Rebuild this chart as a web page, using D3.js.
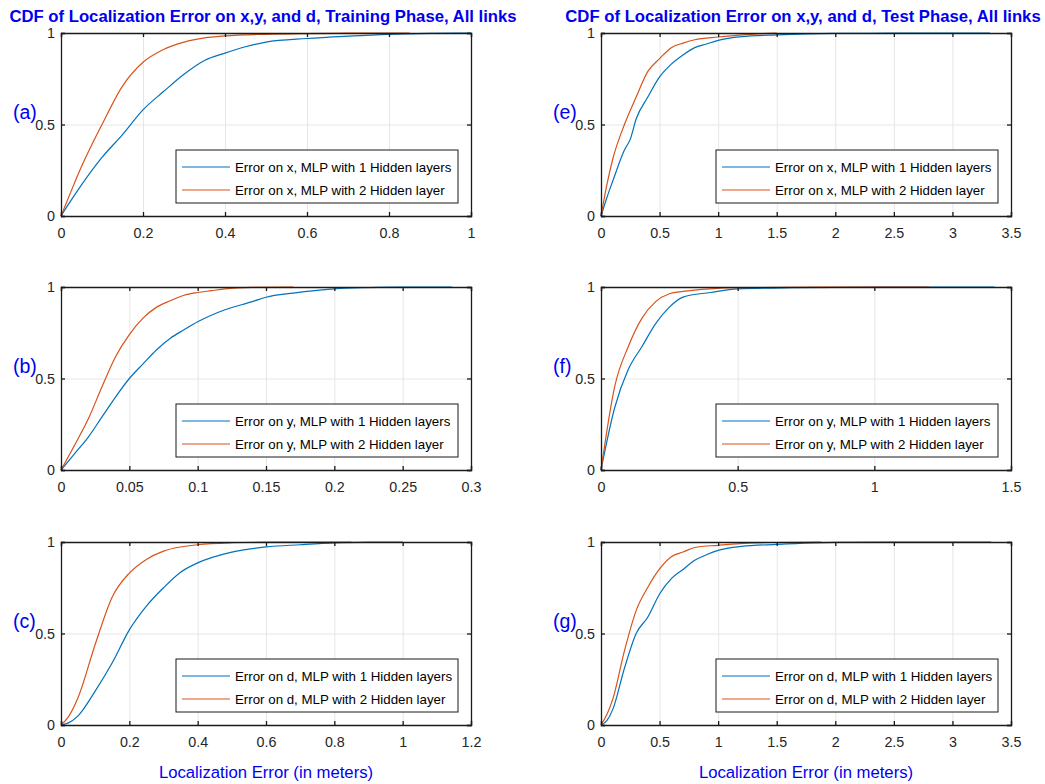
<!DOCTYPE html>
<html>
<head>
<meta charset="utf-8">
<script src="https://cdn.jsdelivr.net/npm/d3@7"></script>
<style>
  body { margin: 0; background: #fff; }
  svg text { font-family: "Liberation Sans", Arial, Helvetica, sans-serif; }
</style>
</head>
<body>
<div id="chart"></div>
<script>
// ---- data (CDF values) ----
// (a) training, error on x
const aOneX = [0, 0.02, 0.05, 0.1, 0.15, 0.2, 0.25, 0.3, 0.35, 0.4, 0.45, 0.5, 0.6, 0.7, 0.8, 0.9, 1.0];
const aOne  = [0, 0.07, 0.17, 0.32, 0.445, 0.58, 0.68, 0.775, 0.85, 0.89, 0.925, 0.95, 0.97, 0.983, 0.993, 0.998, 1];
const aTwoX = [0, 0.02, 0.05, 0.1, 0.15, 0.2, 0.25, 0.3, 0.35, 0.4, 0.5, 0.6, 0.7, 0.85];
const aTwo  = [0, 0.11, 0.27, 0.5, 0.71, 0.84, 0.91, 0.95, 0.973, 0.984, 0.993, 0.997, 0.999, 1];
// (b) training, error on y
const bOneX = [0, 0.01, 0.02, 0.03, 0.04, 0.05, 0.06, 0.07, 0.08, 0.09, 0.1, 0.12, 0.14, 0.15, 0.17, 0.2, 0.22, 0.25, 0.286];
const bOne  = [0, 0.09, 0.18, 0.29, 0.4, 0.5, 0.58, 0.657, 0.72, 0.766, 0.81, 0.876, 0.92, 0.944, 0.967, 0.99, 0.996, 0.999, 1];
const bTwoX = [0, 0.01, 0.02, 0.03, 0.04, 0.05, 0.06, 0.07, 0.08, 0.09, 0.1, 0.11, 0.12, 0.14, 0.17];
const bTwo  = [0, 0.137, 0.28, 0.455, 0.62, 0.74, 0.83, 0.89, 0.925, 0.955, 0.97, 0.98, 0.99, 0.998, 1];
// (c) training, error on d
const cOneX = [0, 0.02, 0.05, 0.1, 0.15, 0.2, 0.25, 0.3, 0.35, 0.4, 0.5, 0.6, 0.7, 0.8, 0.9, 1.0];
const cOne  = [0, 0.01, 0.05, 0.185, 0.34, 0.52, 0.65, 0.75, 0.835, 0.886, 0.945, 0.973, 0.985, 0.995, 0.999, 1];
const cTwoX = [0, 0.02, 0.05, 0.1, 0.15, 0.2, 0.25, 0.3, 0.4, 0.5, 0.6, 0.85];
const cTwo  = [0, 0.04, 0.15, 0.44, 0.7, 0.83, 0.905, 0.95, 0.985, 0.996, 0.999, 1];
// (e) test, error on x
const eOneX = [0, 0.05, 0.1, 0.2, 0.25, 0.3, 0.4, 0.5, 0.6, 0.7, 0.8, 0.9, 1.0, 1.2, 1.5, 2.0, 2.5, 3.32];
const eOne  = [0, 0.1, 0.19, 0.36, 0.42, 0.53, 0.65, 0.76, 0.83, 0.88, 0.92, 0.94, 0.96, 0.98, 0.99, 0.998, 0.999, 1];
const eTwoX = [0, 0.05, 0.1, 0.2, 0.3, 0.4, 0.5, 0.6, 0.7, 0.8, 1.0, 1.2, 1.5];
const eTwo  = [0, 0.17, 0.31, 0.5, 0.65, 0.79, 0.86, 0.92, 0.945, 0.963, 0.978, 0.99, 1];
// (f) test, error on y
const fOneX = [0, 0.05, 0.1, 0.15, 0.2, 0.25, 0.3, 0.4, 0.5, 0.7, 1.0, 1.44];
const fOne  = [0, 0.34, 0.55, 0.675, 0.8, 0.89, 0.945, 0.97, 0.99, 0.996, 0.999, 1];
const fTwoX = [0, 0.05, 0.1, 0.15, 0.2, 0.25, 0.3, 0.4, 0.5, 0.8, 1.2];
const fTwo  = [0, 0.456, 0.675, 0.83, 0.92, 0.963, 0.976, 0.99, 0.996, 0.999, 1];
// (g) test, error on d
const gOneX = [0, 0.05, 0.1, 0.2, 0.3, 0.4, 0.5, 0.6, 0.7, 0.8, 0.9, 1.0, 1.2, 1.5, 2.0, 3.33];
const gOne  = [0, 0.024, 0.084, 0.31, 0.5, 0.59, 0.716, 0.8, 0.85, 0.9, 0.93, 0.954, 0.976, 0.987, 0.998, 1];
const gTwoX = [0, 0.05, 0.1, 0.2, 0.3, 0.4, 0.5, 0.6, 0.7, 0.8, 1.0, 1.3, 1.88];
const gTwo  = [0, 0.057, 0.14, 0.405, 0.625, 0.753, 0.853, 0.92, 0.945, 0.97, 0.982, 0.995, 1];

const panelLabels = ["(a)", "(b)", "(c)", "(e)", "(f)", "(g)"];
const axisNames = ["x", "y", "d", "x", "y", "d"];
const xMax = [1, 0.3, 1.2, 3.5, 1.5, 3.5];
const xTicks = [
    [0, 0.2, 0.4, 0.6, 0.8, 1],
    [0, 0.05, 0.1, 0.15, 0.2, 0.25, 0.3],
    [0, 0.2, 0.4, 0.6, 0.8, 1, 1.2],
    [0, 0.5, 1, 1.5, 2, 2.5, 3, 3.5],
    [0, 0.5, 1, 1.5],
    [0, 0.5, 1, 1.5, 2, 2.5, 3, 3.5]
];
const yTicks = [0, 0.5, 1];
const titles = [
    "CDF of Localization Error on x,y, and d, Training Phase, All links",
    "CDF of Localization Error on x,y, and d, Test Phase, All links"
];
const xLabel = "Localization Error (in meters)";

const seriesX = [[aOneX, aTwoX], [bOneX, bTwoX], [cOneX, cTwoX], [eOneX, eTwoX], [fOneX, fTwoX], [gOneX, gTwoX]];
const seriesY = [[aOne, aTwo], [bOne, bTwo], [cOne, cTwo], [eOne, eTwo], [fOne, fTwo], [gOne, gTwo]];

const colors = ["#0072BD", "#D95319"];
const blue = "#0000f0";

const W = 1045, H = 784;
const colLeft = [61, 601];
const rowTop = [33, 287, 542];
const pw = 410, ph = 183;

const svg = d3.select("#chart").append("svg")
    .attr("width", W)
    .attr("height", H);

// titles
titles.forEach((t, i) => {
    svg.append("text")
        .attr("x", colLeft[i] + pw / 2 - 3)
        .attr("y", 22)
        .attr("text-anchor", "middle")
        .style("font-size", "16.7px")
        .style("font-weight", "bold")
        .style("fill", blue)
        .text(t);
});

for (let p = 0; p < 6; p++) {
    let col = Math.floor(p / 3), row = p % 3;

    let g = svg.append("g")
        .attr("transform", `translate(${colLeft[col]}, ${rowTop[row]})`);

    let x = d3.scaleLinear().domain([0, xMax[p]]).range([0, pw]);
    let y = d3.scaleLinear().domain([0, 1]).range([ph, 0]);

    // grid
    g.append("g")
        .attr("class", "grid")
        .attr("transform", `translate(0, ${ph})`)
        .call(d3.axisBottom(x).tickValues(xTicks[p]).tickSize(-ph).tickFormat(""))
        .call(s => s.select(".domain").remove())
        .call(s => s.selectAll("line").attr("stroke", "#e6e6e6"));
    g.append("g")
        .attr("class", "grid")
        .call(d3.axisLeft(y).tickValues(yTicks).tickSize(-pw).tickFormat(""))
        .call(s => s.select(".domain").remove())
        .call(s => s.selectAll("line").attr("stroke", "#e6e6e6"));

    // curves
    let line = d3.line()
        .curve(d3.curveMonotoneX)
        .x(d => x(d[0]))
        .y(d => y(d[1]));
    [0, 1].forEach(k => {
        let pts = seriesX[p][k].map((v, j) => [v, seriesY[p][k][j]]);
        g.append("path")
            .datum(pts)
            .attr("fill", "none")
            .attr("stroke", colors[k])
            .attr("stroke-width", 1.2)
            .attr("d", line);
    });

    // axes, ticks pointing in
    let fmt = d => String(+d.toFixed(2));
    let xa = g.append("g")
        .attr("transform", `translate(0, ${ph})`)
        .call(d3.axisBottom(x).tickValues(xTicks[p]).tickSize(-4).tickPadding(12).tickFormat(fmt));
    let ya = g.append("g")
        .call(d3.axisLeft(y).tickValues(yTicks).tickSize(-4).tickPadding(6).tickFormat(fmt));
    g.append("g")
        .call(d3.axisTop(x).tickValues(xTicks[p]).tickSize(-4).tickFormat(""));
    g.append("g")
        .attr("transform", `translate(${pw}, 0)`)
        .call(d3.axisRight(y).tickValues(yTicks).tickSize(-4).tickFormat(""));

    g.selectAll(".domain").attr("stroke", "#1a1a1a").attr("stroke-width", 1.3);
    g.selectAll(".tick line").filter(function() { return !this.closest(".grid"); })
        .attr("stroke", "#1a1a1a").attr("stroke-width", 1.3);
    xa.selectAll("text").style("font-size", "14.3px").style("fill", "#262626");
    ya.selectAll("text").style("font-size", "14.3px").style("fill", "#262626");

    // panel label
    g.append("text")
        .attr("x", -48)
        .attr("y", y(0.5) - 6)
        .style("font-size", "19.5px")
        .style("fill", blue)
        .text(panelLabels[p]);

    // legend
    let lw = 282, lh = 53;
    let lg = g.append("g")
        .attr("transform", `translate(${pw - 13 - lw}, ${ph - 13 - lh})`);
    lg.append("rect")
        .attr("width", lw)
        .attr("height", lh)
        .attr("fill", "#fff")
        .attr("stroke", "#1a1a1a")
        .attr("stroke-width", 1);
    ["1 Hidden layers", "2 Hidden layer"].forEach((s, k) => {
        let yy = 17 + k * 23;
        lg.append("line")
            .attr("x1", 6).attr("x2", 54)
            .attr("y1", yy).attr("y2", yy)
            .attr("stroke", colors[k])
            .attr("stroke-width", 1.2);
        lg.append("text")
            .attr("x", 59)
            .attr("y", yy)
            .attr("dy", "0.36em")
            .style("font-size", "13.3px")
            .style("fill", "#000")
            .text(`Error on ${axisNames[p]}, MLP with ${s}`);
    });

    // x label on bottom row
    if (row === 2) {
        g.append("text")
            .attr("x", pw / 2)
            .attr("y", ph + 53)
            .attr("text-anchor", "middle")
            .style("font-size", "16.7px")
            .style("fill", blue)
            .text(xLabel);
    }
}
</script>
</body>
</html>
